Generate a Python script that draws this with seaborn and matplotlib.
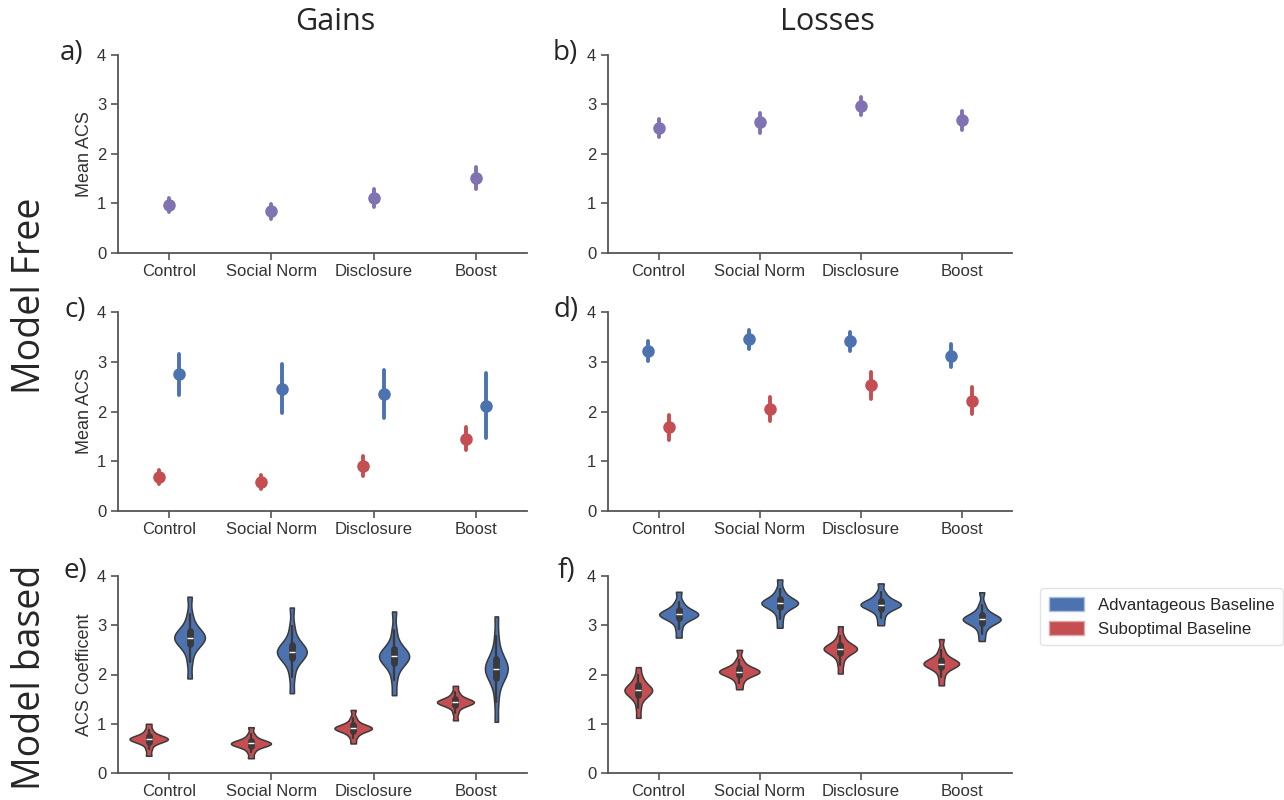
import numpy as np
import pandas as pd
import matplotlib
matplotlib.use('Agg')
import matplotlib.pyplot as plt
import seaborn as sns
from matplotlib.patches import Patch

CONDITIONS = ['Control', 'Social Norm', 'Disclosure', 'Boost']
ADV = 'Advantageous Baseline'
SUB = 'Suboptimal Baseline'

PURPLE = '#8172B3'
BLUE = '#4C72B0'
RED = '#C44E52'

# model free, all participants: (lower, mean, upper) per condition
GAINS_ALL = [(0.82, 0.97, 1.12), (0.69, 0.84, 0.99), (0.93, 1.11, 1.30), (1.29, 1.52, 1.73)]
LOSSES_ALL = [(2.35, 2.53, 2.71), (2.43, 2.64, 2.82), (2.78, 2.96, 3.15), (2.48, 2.68, 2.87)]

# model free, split by baseline
GAINS_ADV = [(2.34, 2.75, 3.16), (1.97, 2.46, 2.95), (1.86, 2.36, 2.84), (1.46, 2.11, 2.78)]
GAINS_SUB = [(0.55, 0.68, 0.82), (0.45, 0.59, 0.73), (0.70, 0.90, 1.11), (1.22, 1.44, 1.68)]
LOSSES_ADV = [(3.02, 3.22, 3.41), (3.25, 3.45, 3.64), (3.22, 3.42, 3.60), (2.89, 3.12, 3.35)]
LOSSES_SUB = [(1.42, 1.68, 1.92), (1.81, 2.06, 2.30), (2.26, 2.53, 2.79), (1.94, 2.22, 2.49)]

# model based posterior draws
GAINS_ADV_DRAWS = [
    [1.92, 2.25, 2.48, 2.58, 2.64, 2.69, 2.72, 2.75, 2.78, 2.81, 2.86, 2.92, 3.02, 3.22, 3.58],
    [1.62, 1.95, 2.18, 2.29, 2.36, 2.40, 2.43, 2.46, 2.49, 2.52, 2.57, 2.64, 2.75, 2.98, 3.36],
    [1.58, 1.88, 2.10, 2.20, 2.27, 2.31, 2.34, 2.37, 2.40, 2.43, 2.48, 2.55, 2.66, 2.90, 3.28],
    [1.04, 1.45, 1.75, 1.89, 1.98, 2.04, 2.08, 2.12, 2.16, 2.21, 2.27, 2.36, 2.50, 2.78, 3.18],
]
GAINS_SUB_DRAWS = [
    [0.35, 0.48, 0.58, 0.62, 0.65, 0.67, 0.68, 0.69, 0.70, 0.71, 0.73, 0.76, 0.80, 0.88, 1.00],
    [0.30, 0.42, 0.50, 0.54, 0.56, 0.58, 0.59, 0.60, 0.61, 0.62, 0.64, 0.67, 0.71, 0.79, 0.93],
    [0.60, 0.72, 0.80, 0.84, 0.87, 0.89, 0.90, 0.91, 0.92, 0.93, 0.95, 0.98, 1.03, 1.12, 1.28],
    [1.07, 1.22, 1.33, 1.37, 1.40, 1.42, 1.43, 1.44, 1.45, 1.46, 1.48, 1.51, 1.56, 1.64, 1.77],
]
LOSSES_ADV_DRAWS = [
    [2.75, 2.92, 3.06, 3.12, 3.16, 3.19, 3.21, 3.22, 3.23, 3.25, 3.28, 3.32, 3.38, 3.48, 3.68],
    [2.95, 3.12, 3.27, 3.34, 3.39, 3.42, 3.44, 3.45, 3.46, 3.48, 3.51, 3.56, 3.62, 3.73, 3.93],
    [3.00, 3.14, 3.26, 3.32, 3.36, 3.39, 3.41, 3.42, 3.43, 3.45, 3.48, 3.52, 3.58, 3.67, 3.85],
    [2.68, 2.83, 2.96, 3.02, 3.07, 3.10, 3.11, 3.12, 3.13, 3.15, 3.18, 3.23, 3.29, 3.42, 3.67],
]
LOSSES_SUB_DRAWS = [
    [1.12, 1.32, 1.48, 1.55, 1.60, 1.63, 1.66, 1.68, 1.70, 1.73, 1.76, 1.81, 1.88, 1.98, 2.15],
    [1.70, 1.83, 1.93, 1.98, 2.01, 2.03, 2.05, 2.06, 2.07, 2.09, 2.11, 2.15, 2.20, 2.30, 2.50],
    [2.02, 2.20, 2.34, 2.41, 2.46, 2.49, 2.51, 2.52, 2.53, 2.55, 2.58, 2.62, 2.68, 2.79, 2.98],
    [1.78, 1.94, 2.07, 2.13, 2.17, 2.20, 2.21, 2.22, 2.23, 2.25, 2.28, 2.32, 2.38, 2.50, 2.72],
]

W, H = 1284, 800
TICK_FONT = 'Liberation Sans'
HEAD_FONT = 'Open Sans'


def long_df(groups):
    rows = []
    for group, values in groups.items():
        for cond, vals in zip(CONDITIONS, values):
            for v in vals:
                rows.append({'Condition': cond, 'Group': group, 'ACS': v})
    return pd.DataFrame(rows)


def px_axes(fig, left, top, right, bottom):
    return fig.add_axes([left / W, 1 - bottom / H, (right - left) / W, (bottom - top) / H])


def style(ax, ylabel):
    sns.despine(ax=ax)
    ax.set_ylim(0, 4)
    ax.set_yticks([0, 1, 2, 3, 4])
    ax.set_xlim(-0.5, 3.5)
    ax.set_xlabel('')
    ax.set_ylabel(ylabel, fontsize=13, color='#333333', family=TICK_FONT, labelpad=3)
    for s in ['left', 'bottom']:
        ax.spines[s].set_color('#555555')
        ax.spines[s].set_linewidth(1.3)
    ax.tick_params(colors='#555555', labelcolor='#333333', length=5, width=1.2, labelsize=12)
    ax.tick_params(axis='x', pad=3)
    for lab in ax.get_xticklabels() + ax.get_yticklabels():
        lab.set_family(TICK_FONT)


def points(ax, groups, order, palette, ylabel):
    df = long_df(groups)
    sns.pointplot(data=df, x='Condition', y='ACS', hue='Group', hue_order=order,
                  order=CONDITIONS, palette=palette, estimator='median',
                  errorbar=('pi', 100), dodge=0.2 if len(order) > 1 else False,
                  linestyle='none', markersize=7, err_kws={'linewidth': 2.8},
                  legend=False, ax=ax)
    style(ax, ylabel)


def violins(ax, groups, ylabel, gaps):
    df = long_df(groups)
    # one call per baseline so each can get its own thickness
    for group in [SUB, ADV]:
        sns.violinplot(data=df[df['Group'] == group], x='Condition', y='ACS', hue='Group',
                       hue_order=[SUB, ADV], order=CONDITIONS, palette={SUB: RED, ADV: BLUE},
                       dodge=True, density_norm='area', cut=0, bw_adjust=0.6, gap=gaps[group],
                       inner='box', linewidth=1.1, linecolor='#3a3a3a',
                       saturation=1, legend=False, ax=ax)
    style(ax, ylabel)


sns.set_style('ticks')
plt.rcParams['font.family'] = [HEAD_FONT, 'DejaVu Sans']

fig = plt.figure(figsize=(W / 100, H / 100), dpi=100)

ax_a = px_axes(fig, 118, 55, 527, 253)
ax_b = px_axes(fig, 608, 55, 1012, 253)
ax_c = px_axes(fig, 118, 312, 527, 511)
ax_d = px_axes(fig, 608, 312, 1012, 511)
ax_e = px_axes(fig, 118, 576, 527, 773)
ax_f = px_axes(fig, 608, 576, 1012, 773)

points(ax_a, {'All': GAINS_ALL}, ['All'], {'All': PURPLE}, 'Mean ACS')
points(ax_b, {'All': LOSSES_ALL}, ['All'], {'All': PURPLE}, '')
points(ax_c, {ADV: GAINS_ADV, SUB: GAINS_SUB}, [SUB, ADV], {SUB: RED, ADV: BLUE}, 'Mean ACS')
points(ax_d, {ADV: LOSSES_ADV, SUB: LOSSES_SUB}, [ADV, SUB], {SUB: RED, ADV: BLUE}, '')
violins(ax_e, {ADV: GAINS_ADV_DRAWS, SUB: GAINS_SUB_DRAWS}, 'ACS Coefficent', {SUB: 0.02, ADV: 0.25})
violins(ax_f, {ADV: LOSSES_ADV_DRAWS, SUB: LOSSES_SUB_DRAWS}, '', {SUB: 0.0, ADV: 0.0})

fig.text(335 / W, 1 - 22 / H, 'Gains', ha='center', va='center', fontsize=22)
fig.text(827 / W, 1 - 22 / H, 'Losses', ha='center', va='center', fontsize=22)
fig.text(30 / W, 1 - 296 / H, 'Model Free', rotation=90, ha='center', va='center', fontsize=27)
fig.text(30 / W, 1 - 677 / H, 'Model based', rotation=90, ha='center', va='center', fontsize=27)

for letter, (x, y) in zip('abcdef', [(72, 53), (565, 53), (75, 310), (566, 310), (75, 571), (566, 571)]):
    fig.text(x / W, 1 - y / H, letter + ')', ha='center', va='center', fontsize=20)

handles = [Patch(facecolor=BLUE, edgecolor='#aac0e0', label=ADV),
           Patch(facecolor=RED, edgecolor='#e0a8aa', label=SUB)]
fig.legend(handles=handles, loc='upper left', bbox_to_anchor=(1032 / W, 1 - 580 / H),
           prop={'family': TICK_FONT, 'size': 12.1}, frameon=True, edgecolor='#dddddd',
           handlelength=2.1, handleheight=0.9, handletextpad=0.8, borderpad=0.5,
           labelspacing=0.5)

fig.savefig('out.png', dpi=100)
